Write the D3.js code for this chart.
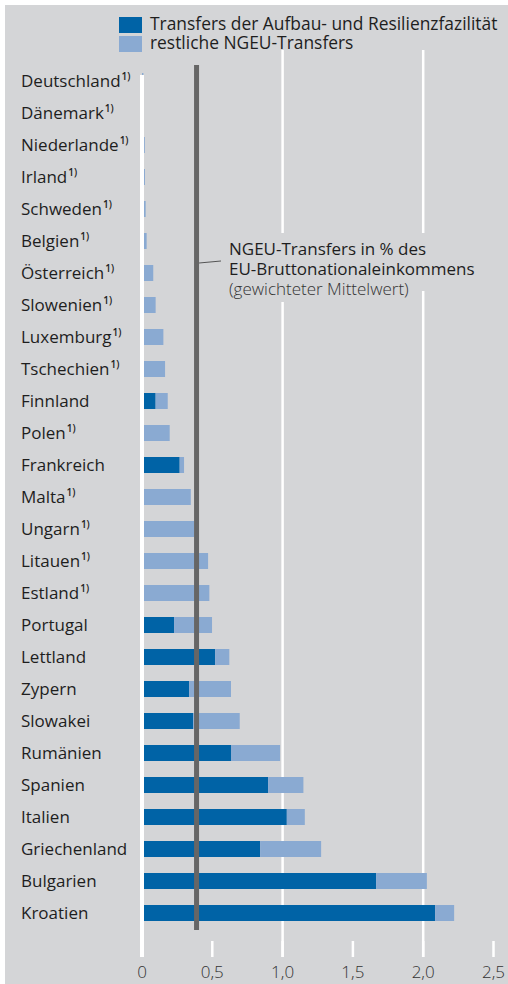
<!DOCTYPE html>
<html>
<head>
<meta charset="utf-8">
<script src="https://cdn.jsdelivr.net/npm/d3@7"></script>
<style>
  body { margin: 0; background: #fff; }
  svg { display: block; font-family: "Open Sans", sans-serif; }
  .label { font-size: 17px; fill: #1e1e1e; }
  .tick-label { font-size: 17px; font-weight: 300; fill: #333; }
  .legend-text { font-size: 17.4px; fill: #1e1e1e; }
  .note { font-size: 17px; fill: #1e1e1e; }
</style>
</head>
<body>
<svg id="chart" width="508" height="984"></svg>
<script>
// countries, top to bottom
var countries = ["Deutschland", "Dänemark", "Niederlande", "Irland", "Schweden", "Belgien",
  "Österreich", "Slowenien", "Luxemburg", "Tschechien", "Finnland", "Polen", "Frankreich",
  "Malta", "Ungarn", "Litauen", "Estland", "Portugal", "Lettland", "Zypern", "Slowakei",
  "Rumänien", "Spanien", "Italien", "Griechenland", "Bulgarien", "Kroatien"];

// footnote 1) marker
var footnote = [1, 1, 1, 1, 1, 1, 1, 1, 1, 1, 0, 1, 0, 1, 1, 1, 1, 0, 0, 0, 0, 0, 0, 0, 0, 0, 0];

// Transfers der Aufbau- und Resilienzfazilität (% of GNI)
var rrf = [0, 0, 0, 0, 0, 0, 0, 0, 0, 0, 0.097, 0, 0.268, 0, 0, 0, 0, 0.228, 0.52, 0.335,
  0.363, 0.633, 0.897, 1.03, 0.84, 1.665, 2.085];

// restliche NGEU-Transfers (% of GNI)
var rest = [0.01, 0.008, 0.02, 0.021, 0.026, 0.033, 0.08, 0.097, 0.152, 0.164, 0.086, 0.197,
  0.031, 0.347, 0.37, 0.47, 0.479, 0.27, 0.101, 0.298, 0.332, 0.349, 0.251, 0.128, 0.434,
  0.361, 0.135];

var meanValue = 0.388;
var ticks = [0, 0.5, 1.0, 1.5, 2.0, 2.5];
var legendLabels = ["Transfers der Aufbau- und Resilienzfazilität", "restliche NGEU-Transfers"];
var noteLines = ["NGEU-Transfers in % des", "EU-Bruttonationaleinkommens", "(gewichteter Mittelwert)"];

var colors = { rrf: "#0063a6", rest: "#8aaad2", bg: "#d4d5d7", mean: "#666666" };

var svg = d3.select("#chart");

var x = d3.scaleLinear().domain([0, 2.5]).range([142, 493.5]);
var y = d3.scaleBand().domain(countries).range([65, 929]).paddingInner(0.5).paddingOuter(0.25);

var rows = countries.map(function(c, i) {
  return { country: c, note: footnote[i], rrf: rrf[i], rest: rest[i] };
});

// background panel
svg.append("rect")
  .attr("x", 5).attr("y", 5)
  .attr("width", 503).attr("height", 979)
  .attr("fill", colors.bg);

// grid lines at 1,0 and 2,0
svg.selectAll("line.grid")
  .data([1.0, 2.0])
  .enter().append("line")
  .attr("class", "grid")
  .attr("x1", function(d) { return x(d); })
  .attr("x2", function(d) { return x(d); })
  .attr("y1", 50).attr("y2", 957)
  .attr("stroke", "#fff").attr("stroke-width", 2.5);

// short ticks at the bottom
svg.selectAll("line.tick")
  .data(ticks)
  .enter().append("line")
  .attr("class", "tick")
  .attr("x1", function(d) { return x(d); })
  .attr("x2", function(d) { return x(d); })
  .attr("y1", 941).attr("y2", 957)
  .attr("stroke", "#fff").attr("stroke-width", 2.5);

// gray box behind the annotation
svg.append("rect")
  .attr("x", 225).attr("y", 233)
  .attr("width", 262).attr("height", 58)
  .attr("fill", colors.bg);
svg.append("rect")
  .attr("x", 225).attr("y", 290)
  .attr("width", 188).attr("height", 12)
  .attr("fill", colors.bg);

// bars
var bars = svg.append("g");
bars.selectAll("rect.rrf")
  .data(rows)
  .enter().append("rect")
  .attr("class", "rrf")
  .attr("x", x(0))
  .attr("y", function(d) { return y(d.country); })
  .attr("width", function(d) { return x(d.rrf) - x(0); })
  .attr("height", y.bandwidth())
  .attr("fill", colors.rrf);

bars.selectAll("rect.rest")
  .data(rows)
  .enter().append("rect")
  .attr("class", "rest")
  .attr("x", function(d) { return x(d.rrf); })
  .attr("y", function(d) { return y(d.country); })
  .attr("width", function(d) { return x(d.rrf + d.rest) - x(d.rrf); })
  .attr("height", y.bandwidth())
  .attr("fill", colors.rest);

// zero line over the bars
svg.append("line")
  .attr("x1", x(0)).attr("x2", x(0))
  .attr("y1", 75).attr("y2", 957)
  .attr("stroke", "#fff").attr("stroke-width", 4);

// weighted mean line
svg.append("line")
  .attr("x1", x(meanValue)).attr("x2", x(meanValue))
  .attr("y1", 65).attr("y2", 930)
  .attr("stroke", colors.mean).attr("stroke-width", 5);

// leader line to annotation
svg.append("line")
  .attr("x1", x(meanValue) + 2.5).attr("y1", 263)
  .attr("x2", 221).attr("y2", 261)
  .attr("stroke", "#333").attr("stroke-width", 0.8);

// annotation, one text block with a line per tspan
var note = svg.append("text")
  .attr("class", "note")
  .attr("x", 229)
  .attr("y", 255);

note.selectAll("tspan")
  .data(noteLines)
  .enter().append("tspan")
  .attr("x", 229)
  .attr("dy", function(d, i) { return i == 0 ? 0 : 20; })
  .style("font-weight", function(d, i) { return i == 2 ? 300 : 400; })
  .style("fill", function(d, i) { return i == 2 ? "#333" : "#1e1e1e"; })
  .text(function(d) { return d; });

// country labels
var labels = svg.selectAll("text.label")
  .data(rows)
  .enter().append("text")
  .attr("class", "label")
  .attr("x", 21)
  .attr("y", function(d) { return y(d.country) + y.bandwidth() / 2 + 6; });

labels.append("tspan").text(function(d) { return d.country; });
labels.filter(function(d) { return d.note; })
  .append("tspan")
  .attr("dx", 1)
  .attr("dy", -7)
  .style("font-size", "10px")
  .style("font-weight", 600)
  .text("1)");

// tick labels
svg.selectAll("text.tick-label")
  .data(ticks)
  .enter().append("text")
  .attr("class", "tick-label")
  .attr("x", function(d) { return x(d); })
  .attr("y", 978)
  .attr("text-anchor", "middle")
  .text(function(d) { return d == 0 ? "0" : d3.format(".1f")(d).replace(".", ","); });

// legend swatches
svg.selectAll("rect.legend")
  .data(legendLabels)
  .enter().append("rect")
  .attr("class", "legend")
  .attr("x", 119)
  .attr("y", function(d, i) { return 17 + i * 19; })
  .attr("width", 23).attr("height", 16)
  .attr("fill", function(d, i) { return i == 0 ? colors.rrf : colors.rest; });

// legend text block
var legendText = svg.append("text")
  .attr("class", "legend-text")
  .attr("x", 150)
  .attr("y", 30);

legendText.selectAll("tspan")
  .data(legendLabels)
  .enter().append("tspan")
  .attr("x", 150)
  .attr("dy", function(d, i) { return i == 0 ? 0 : 19; })
  .text(function(d) { return d; });
</script>
</body>
</html>
